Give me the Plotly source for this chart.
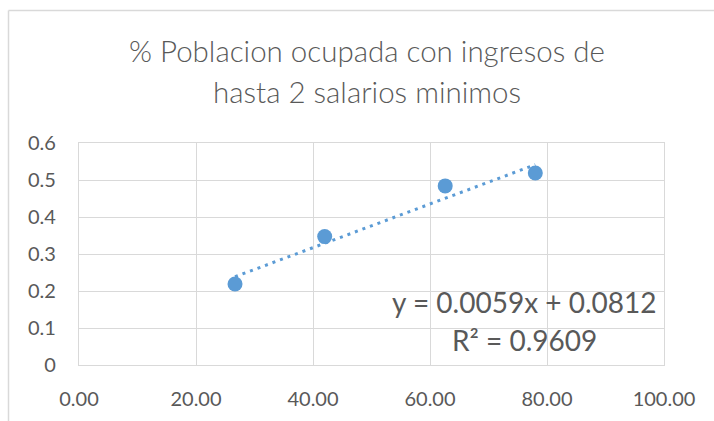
import plotly.graph_objects as go

# Share of employed population earning up to 2 minimum wages
x_vals = [26.67, 42.0, 62.6, 78.0]
y_vals = [0.219, 0.347, 0.484, 0.519]

# Linear trendline coefficients and fit quality
slope = 0.0059
intercept = 0.0812
r_squared = 0.9609

x_ticks = [0, 20, 40, 60, 80, 100]
y_ticks = [0, 0.1, 0.2, 0.3, 0.4, 0.5, 0.6]

title_lines = ["% Poblacion ocupada con ingresos de", "hasta 2 salarios minimos"]

blue = "#5B9BD5"
grey_text = "#595959"
grid = "#D9D9D9"
font_family = "Lato, 'Open Sans', sans-serif"

trend_x = [x_vals[0], x_vals[-1]]
trend_y = [slope * v + intercept for v in trend_x]

fig = go.Figure()
fig.add_trace(go.Scatter(
    x=trend_x, y=trend_y, mode="lines",
    line=dict(color=blue, width=3, dash="3px,5px"),
    hoverinfo="skip", showlegend=False,
))
fig.add_trace(go.Scatter(
    x=x_vals, y=y_vals, mode="markers",
    marker=dict(color=blue, size=15, line=dict(width=0)),
    showlegend=False,
))

W, H = 714, 421
L, R, T, B = 79, 50, 143, 56
pw, ph = W - L - R, H - T - B


def px_to_paper_x(px):
    return (px - L) / pw


def px_to_paper_y(py):
    return (H - B - py) / ph


def centered_text(text, cx, cy, size, weight=400):
    return dict(text=text, x=px_to_paper_x(cx), y=px_to_paper_y(cy),
                xref="paper", yref="paper", showarrow=False,
                xanchor="center", yanchor="middle",
                font=dict(size=size, color=grey_text, family=font_family,
                          weight=weight))


annotations = [
    centered_text(title_lines[0], 367, 50, 29.5, 300),
    centered_text(title_lines[1], 367, 92, 29.5, 300),
    centered_text(f"y = {slope:.4f}x + {intercept:.4f}", 524, 302, 28),
    centered_text(f"R² = {r_squared:.4f}", 524, 340, 28),
]

# Outer chart frame (top and left edges visible)
shapes = [
    dict(type="line", xref="paper", yref="paper",
         x0=px_to_paper_x(8.5), x1=px_to_paper_x(800),
         y0=px_to_paper_y(10.5), y1=px_to_paper_y(10.5),
         line=dict(color=grid, width=1.5)),
    dict(type="line", xref="paper", yref="paper",
         x0=px_to_paper_x(8.5), x1=px_to_paper_x(8.5),
         y0=px_to_paper_y(10.5), y1=px_to_paper_y(500),
         line=dict(color=grid, width=1.5)),
]

fig.update_layout(
    width=W, height=H,
    margin=dict(l=L, r=R, t=T, b=B, pad=0),
    paper_bgcolor="white", plot_bgcolor="white",
    font=dict(family=font_family, size=20, color=grey_text),
    annotations=annotations,
    shapes=shapes,
    xaxis=dict(
        range=[0, 100], tickvals=x_ticks,
        ticktext=[f"{v:.2f}" for v in x_ticks],
        showgrid=True, gridcolor=grid, gridwidth=1.3,
        showline=True, linecolor=grid, linewidth=1.3, mirror=True,
        zeroline=False, ticks="", ticklabelstandoff=16,
        tickfont=dict(size=20, color=grey_text),
    ),
    yaxis=dict(
        range=[0, 0.6], tickvals=y_ticks,
        ticktext=[f"{v:g}" for v in y_ticks],
        showgrid=True, gridcolor=grid, gridwidth=1.3,
        showline=True, linecolor=grid, linewidth=1.3, mirror=True,
        zeroline=False, ticks="", ticklabelstandoff=18,
        tickfont=dict(size=20, color=grey_text),
    ),
)

fig.write_html("out.html")
